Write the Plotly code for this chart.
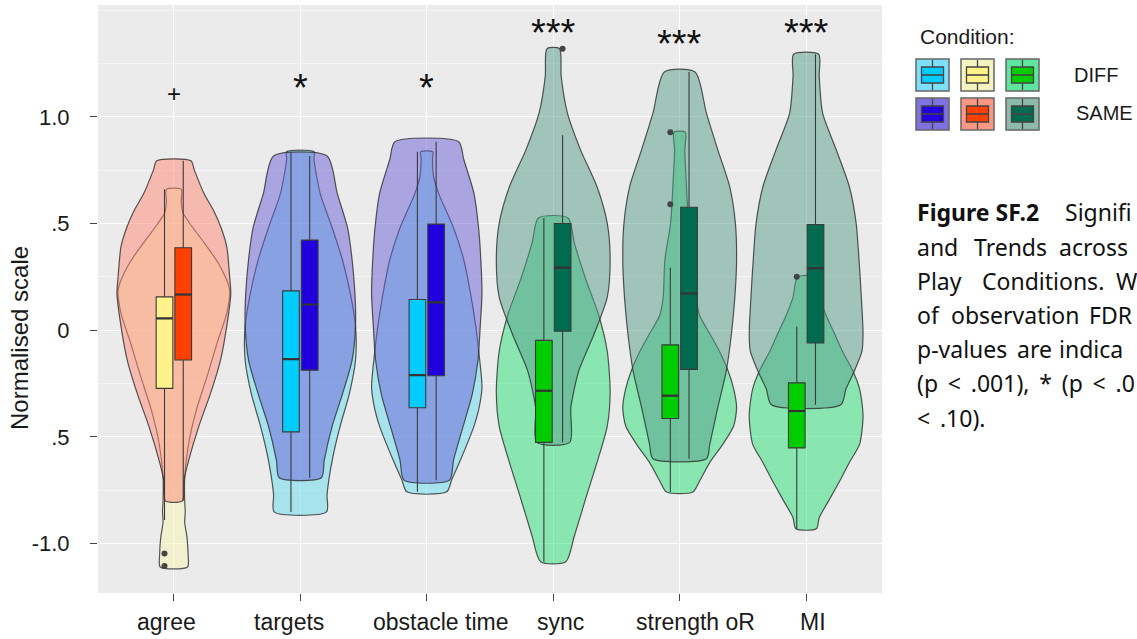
import plotly.graph_objects as go

# ---------------------------------------------------------------- data
categories = ["agree", "targets", "obstacle time", "sync", "strength oR", "MI"]
conditions = ["DIFF", "SAME"]

# Violin density profiles: levels on the normalised scale (top to bottom)
# and relative half-widths (1 = widest violin).
agree_diff_y = [0.66, 0.60, 0.55, 0.50, 0.41, 0.31, 0.19, 0.08, -0.06, -0.22, -0.37, -0.53, -0.69, -0.80, -0.85, -0.90, -0.97, -1.05, -1.11]
agree_diff_w = [0.13, 0.13, 0.16, 0.28, 0.53, 0.79, 0.98, 0.93, 0.76, 0.58, 0.40, 0.26, 0.19, 0.19, 0.20, 0.19, 0.23, 0.25, 0.24]
agree_same_y = [0.794, 0.75, 0.64, 0.56, 0.48, 0.39, 0.25, 0.17, 0.02, -0.14, -0.30, -0.45, -0.61, -0.70, -0.80]
agree_same_w = [0.30, 0.36, 0.53, 0.70, 0.83, 0.93, 0.98, 1.00, 0.93, 0.82, 0.64, 0.44, 0.26, 0.18, 0.15]

targets_diff_y = [0.836, 0.80, 0.64, 0.48, 0.33, 0.17, 0.02, -0.14, -0.30, -0.45, -0.61, -0.77, -0.852]
targets_diff_w = [0.24, 0.24, 0.35, 0.56, 0.74, 0.88, 0.97, 0.97, 0.86, 0.70, 0.56, 0.47, 0.46]
targets_same_y = [0.816, 0.64, 0.48, 0.33, 0.17, 0.02, -0.14, -0.30, -0.45, -0.61, -0.692]
targets_same_w = [0.47, 0.65, 0.83, 0.91, 0.96, 0.97, 0.91, 0.74, 0.56, 0.42, 0.37]

obstacle_diff_y = [0.836, 0.80, 0.72, 0.64, 0.48, 0.33, 0.17, 0.02, -0.14, -0.27, -0.375, -0.45, -0.61, -0.70, -0.758]
obstacle_diff_w = [0.105, 0.10, 0.12, 0.21, 0.47, 0.65, 0.77, 0.86, 0.93, 0.97, 0.91, 0.83, 0.59, 0.44, 0.35]
obstacle_same_y = [0.883, 0.80, 0.64, 0.48, 0.33, 0.17, 0.02, -0.14, -0.30, -0.45, -0.61, -0.703]
obstacle_same_w = [0.56, 0.65, 0.83, 0.91, 0.95, 0.97, 0.94, 0.90, 0.80, 0.64, 0.47, 0.40]

sync_diff_y = [0.526, 0.41, 0.24, 0.07, -0.10, -0.29, -0.45, -0.62, -0.79, -0.966, -1.086]
sync_diff_w = [0.26, 0.37, 0.57, 0.80, 0.95, 1.00, 0.95, 0.77, 0.57, 0.37, 0.22]
sync_same_y = [1.319, 1.19, 1.017, 0.845, 0.672, 0.50, 0.328, 0.155, -0.017, -0.19, -0.362, -0.526]
sync_same_w = [0.11, 0.14, 0.25, 0.48, 0.77, 0.95, 1.00, 0.95, 0.72, 0.45, 0.31, 0.29]

strength_diff_y = [0.928, 0.845, 0.672, 0.50, 0.33, 0.155, 0.07, -0.017, -0.10, -0.19, -0.276, -0.362, -0.448, -0.534, -0.62, -0.707, -0.759]
strength_diff_w = [0.10, 0.09, 0.12, 0.16, 0.26, 0.29, 0.35, 0.53, 0.70, 0.85, 0.95, 1.00, 0.95, 0.76, 0.53, 0.35, 0.23]
strength_same_y = [1.21, 1.017, 0.845, 0.672, 0.50, 0.328, 0.155, -0.017, -0.19, -0.362, -0.534, -0.603]
strength_same_w = [0.27, 0.47, 0.67, 0.88, 0.98, 1.00, 0.97, 0.91, 0.82, 0.67, 0.53, 0.47]

mi_diff_y = [0.25, 0.155, 0.07, -0.017, -0.10, -0.19, -0.276, -0.40, -0.534, -0.62, -0.707, -0.793, -0.879, -0.931]
mi_diff_w = [0.15, 0.23, 0.35, 0.50, 0.64, 0.82, 0.94, 1.00, 0.94, 0.76, 0.59, 0.41, 0.23, 0.18]
mi_same_y = [1.293, 1.19, 1.017, 0.845, 0.672, 0.50, 0.328, 0.155, -0.017, -0.10, -0.19, -0.276, -0.35]
mi_same_w = [0.22, 0.23, 0.29, 0.53, 0.76, 0.88, 0.93, 0.97, 1.00, 0.98, 0.85, 0.70, 0.61]

# Box-plot statistics per category
diff_q1 = [-0.273, -0.477, -0.364, -0.526, -0.414, -0.552]
diff_median = [0.055, -0.136, -0.211, -0.284, -0.307, -0.379]
diff_q3 = [0.156, 0.184, 0.144, -0.048, -0.069, -0.247]
diff_lower = [-0.89, -0.852, -0.758, -1.086, -0.759, -0.931]
diff_upper = [0.66, 0.836, 0.836, 0.526, 0.293, 0.017]

same_q1 = [-0.14, -0.1875, -0.214, -0.005, -0.184, -0.06]
same_median = [0.167, 0.12, 0.13, 0.293, 0.172, 0.29]
same_q3 = [0.386, 0.422, 0.497, 0.50, 0.576, 0.495]
same_lower = [-0.80, -0.692, -0.703, -0.526, -0.603, -0.35]
same_upper = [0.794, 0.816, 0.883, 0.914, 1.21, 1.293]

# Outlying observations
outlier_category = ["agree", "agree", "sync", "strength oR", "strength oR", "MI"]
outlier_condition = ["DIFF", "DIFF", "SAME", "DIFF", "DIFF", "DIFF"]
outlier_value = [-1.047, -1.105, 1.319, 0.928, 0.59, 0.25]

# Significance markers
sig_labels = ["+", "*", "*", "***", "***", "***"]
sig_y = [1.11, 1.157, 1.16, 1.417, 1.365, 1.417]

# Caption words with their left edges (px), one list per justified line
GAP = " \u2009"
caption_lines = [
    [("<b>Figure SF.2</b>", 915), ("Signifi", 1063)],
    [("and", 915), ("Trends", 972), ("across", 1057)],
    [("Play", 915), ("Conditions.", 980), ("W", 1114)],
    [("of", 915), ("observation", 949), ("FDR", 1087)],
    [("p-values", 915), ("are", 1015), ("indica", 1057)],
    [(GAP.join(["(p", "<", ".001),", "*", "(p", "<", ".0"]), 915)],
    [("<" + GAP + ".10).", 915)],
]

# ---------------------------------------------------------------- styling
profiles = {
    ("agree", "DIFF"): (agree_diff_y, agree_diff_w),
    ("agree", "SAME"): (agree_same_y, agree_same_w),
    ("targets", "DIFF"): (targets_diff_y, targets_diff_w),
    ("targets", "SAME"): (targets_same_y, targets_same_w),
    ("obstacle time", "DIFF"): (obstacle_diff_y, obstacle_diff_w),
    ("obstacle time", "SAME"): (obstacle_same_y, obstacle_same_w),
    ("sync", "DIFF"): (sync_diff_y, sync_diff_w),
    ("sync", "SAME"): (sync_same_y, sync_same_w),
    ("strength oR", "DIFF"): (strength_diff_y, strength_diff_w),
    ("strength oR", "SAME"): (strength_same_y, strength_same_w),
    ("MI", "DIFF"): (mi_diff_y, mi_diff_w),
    ("MI", "SAME"): (mi_same_y, mi_same_w),
}

group_of = {"agree": 0, "targets": 1, "obstacle time": 1, "sync": 2, "strength oR": 2, "MI": 2}
violin_fill = {
    (0, "DIFF"): "rgba(247,248,180,0.5)", (0, "SAME"): "rgba(255,135,118,0.5)",
    (1, "DIFF"): "rgba(100,220,240,0.5)", (1, "SAME"): "rgba(105,95,215,0.5)",
    (2, "DIFF"): "rgba(40,225,120,0.5)", (2, "SAME"): "rgba(85,157,137,0.5)",
}
box_fill = {
    (0, "DIFF"): "#fff28a", (0, "SAME"): "#ff4000",
    (1, "DIFF"): "#00ccff", (1, "SAME"): "#2200dd",
    (2, "DIFF"): "#00cc00", (2, "SAME"): "#006b4e",
}
key_fill = {
    (0, "DIFF"): "#f4f4c0", (0, "SAME"): "#fa9884",
    (1, "DIFF"): "#7ee0f8", (1, "SAME"): "#7e72e0",
    (2, "DIFF"): "#5ee6a0", (2, "SAME"): "#8cbaab",
}

# horizontal nudge (px) of each category label under its tick
label_nudge = [-7, -11, 14, 7, 16, 7]

MAX_HALF = 0.45      # half-width of the widest violin, in category units
DODGE = 0.074        # box offset from the category centre
BOX_W = 0.132
OUTLINE = "rgba(45,45,45,0.8)"
INK = "#1a1a1a"
SANS = "Liberation Sans, Arial, sans-serif"
CAPTION_FONT = "Noto Sans, Lato, sans-serif"

fig = go.Figure()

# violins (DIFF underneath, SAME on top)
for i, cat in enumerate(categories):
    g = group_of[cat]
    for cond in conditions:
        ys, ws = profiles[(cat, cond)]
        xs = [i - w * MAX_HALF for w in ws] + [i + w * MAX_HALF for w in reversed(ws)]
        yy = list(ys) + list(reversed(ys))
        xs.append(xs[0])
        yy.append(yy[0])
        fig.add_trace(go.Scatter(
            x=xs, y=yy, mode="lines", fill="toself",
            fillcolor=violin_fill[(g, cond)],
            line=dict(color=OUTLINE, width=1.2, shape="spline", smoothing=0.7),
            hoverinfo="skip", showlegend=False, xaxis="x", yaxis="y",
        ))

# boxes on an overlaid axis so they sit above the violins
stats = {
    "DIFF": (diff_q1, diff_median, diff_q3, diff_lower, diff_upper, -DODGE),
    "SAME": (same_q1, same_median, same_q3, same_lower, same_upper, DODGE),
}
for i, cat in enumerate(categories):
    g = group_of[cat]
    for cond in conditions:
        q1, med, q3, lo, hi, off = stats[cond]
        fig.add_trace(go.Box(
            x=[i + off], q1=[q1[i]], median=[med[i]], q3=[q3[i]],
            lowerfence=[lo[i]], upperfence=[hi[i]],
            width=BOX_W, whiskerwidth=0, boxpoints=False,
            fillcolor=box_fill[(g, cond)],
            line=dict(color="#3a3a3a", width=1.1),
            hoverinfo="skip", showlegend=False, xaxis="x2", yaxis="y",
        ))
        fig.add_trace(go.Scatter(
            x=[i + off - BOX_W / 2, i + off + BOX_W / 2], y=[med[i], med[i]],
            mode="lines", line=dict(color="#333333", width=2.2),
            hoverinfo="skip", showlegend=False, xaxis="x2", yaxis="y",
        ))

# outliers
ox = [categories.index(c) + (-DODGE if k == "DIFF" else DODGE)
      for c, k in zip(outlier_category, outlier_condition)]
fig.add_trace(go.Scatter(
    x=ox, y=outlier_value, mode="markers",
    marker=dict(color="#444444", size=6),
    hoverinfo="skip", showlegend=False, xaxis="x2", yaxis="y",
))

# ---------------------------------------------------------------- layout
L, R, T, B = 98, 255, 5, 46
W, H = 1137, 639
PW, PH = W - L - R, H - T - B


def px(x):
    return (x - L) / PW


def py(y):
    return (H - B - y) / PH


annotations = []
for i, (lab, yv) in enumerate(zip(sig_labels, sig_y)):
    star = "*" in lab
    annotations.append(dict(
        x=i, y=yv, xref="x", yref="y", text=lab, showarrow=False,
        font=dict(family=SANS, size=38 if star else 24, color="#111111"),
        yshift=-5 if star else 0,
    ))

# category labels under the x ticks
for i, (cat, dx) in enumerate(zip(categories, label_nudge)):
    annotations.append(dict(
        x=i, y=py(622), xref="x", yref="paper", text=cat, xshift=dx,
        xanchor="center", yanchor="middle", showarrow=False,
        font=dict(family=SANS, size=23, color=INK),
    ))

annotations.append(dict(
    x=px(19), y=py(338), xref="paper", yref="paper", text="Normalised scale",
    textangle=-90, xanchor="center", yanchor="middle", showarrow=False,
    font=dict(family=SANS, size=24, color=INK),
))

# legend
for txt, xv, yv, size in [("Condition:", 918, 36, 21), ("DIFF", 1072, 75, 20), ("SAME", 1074, 113, 20)]:
    annotations.append(dict(
        x=px(xv), y=py(yv), xref="paper", yref="paper", text=txt,
        xanchor="left", yanchor="middle", showarrow=False,
        font=dict(family=SANS, size=size, color=INK),
    ))

shapes = []
key_cols = [(916, 1), (961, 0), (1006, 2)]
key_rows = [(59, "DIFF"), (98, "SAME")]
for kx, g in key_cols:
    for ky, cond in key_rows:
        x0, x1, y0, y1 = kx, kx + 33, ky, ky + 32
        shapes.append(dict(type="rect", xref="paper", yref="paper",
                           x0=px(x0), x1=px(x1), y0=py(y1), y1=py(y0),
                           fillcolor=key_fill[(g, cond)],
                           line=dict(color="#666666", width=1.5)))
        cx = (x0 + x1) / 2
        shapes.append(dict(type="line", xref="paper", yref="paper",
                           x0=px(cx), x1=px(cx), y0=py(y1 - 1), y1=py(y0 + 1),
                           line=dict(color="#444444", width=1.3)))
        shapes.append(dict(type="rect", xref="paper", yref="paper",
                           x0=px(x0 + 5.5), x1=px(x1 - 5.5), y0=py(y1 - 8), y1=py(y0 + 8),
                           fillcolor=box_fill[(g, cond)],
                           line=dict(color="#444444", width=1.3)))
        cy = (y0 + y1) / 2
        shapes.append(dict(type="line", xref="paper", yref="paper",
                           x0=px(x0 + 5.5), x1=px(x1 - 5.5), y0=py(cy), y1=py(cy),
                           line=dict(color="#444444", width=1.6)))

# caption text beside the legend
line_y = [212, 247, 281, 315, 349, 383, 418]
for words, yv in zip(caption_lines, line_y):
    for txt, xv in words:
        annotations.append(dict(
            x=px(xv), y=py(yv), xref="paper", yref="paper", text=txt,
            xanchor="left", yanchor="middle", showarrow=False,
            font=dict(family=CAPTION_FONT, size=23, color="#111111"),
        ))

fig.update_layout(
    width=W, height=H,
    margin=dict(l=L, r=R, t=T, b=B, autoexpand=False),
    paper_bgcolor="white", plot_bgcolor="#ebebeb",
    showlegend=False,
    xaxis=dict(
        range=[-0.6, len(categories) - 0.4],
        tickmode="array", tickvals=list(range(len(categories))),
        showticklabels=False,
        showgrid=True, gridcolor="white", gridwidth=1.3,
        zeroline=False, showline=False,
        ticks="outside", ticklen=7, tickwidth=1, tickcolor="#444444",
    ),
    xaxis2=dict(overlaying="x", matches="x", visible=False, anchor="y"),
    yaxis=dict(
        range=[-1.232, 1.524],
        tickmode="array", tickvals=[-1, -0.5, 0, 0.5, 1],
        ticktext=["-1.0", ".5", "0", ".5", "1.0"],
        showgrid=True, gridcolor="white", gridwidth=1.3,
        minor=dict(tickvals=[-1.25, -0.75, -0.25, 0.25, 0.75, 1.25, 1.5],
                   showgrid=True, gridcolor="#f5f5f5", gridwidth=0.7, ticks=""),
        zeroline=False, showline=False,
        ticks="outside", ticklen=7, tickwidth=1, tickcolor="#444444",
        tickfont=dict(family=SANS, size=22, color=INK),
        ticklabelstandoff=16,
    ),
    annotations=annotations,
    shapes=shapes,
)

fig.write_html("out.html")
